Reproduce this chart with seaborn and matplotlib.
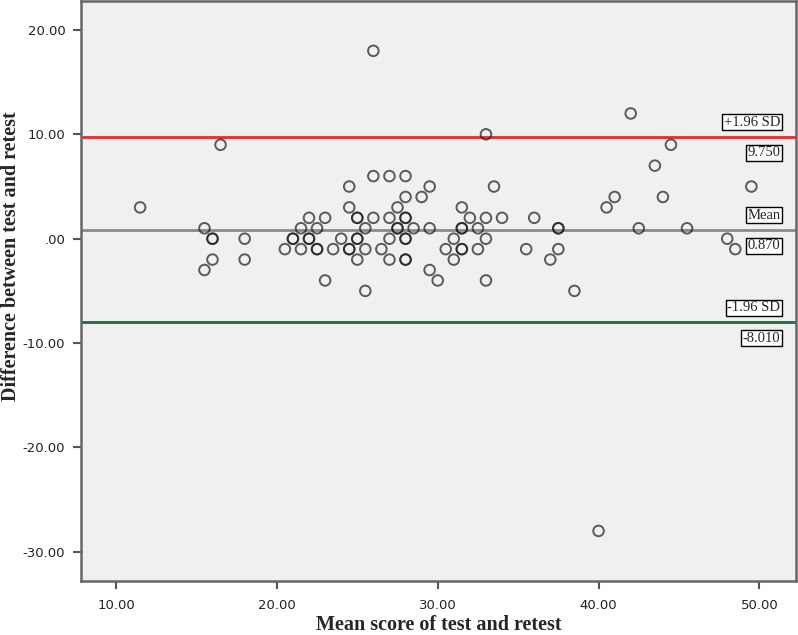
import numpy as np
import pandas as pd
import seaborn as sns
import matplotlib.pyplot as plt

# Bland-Altman data (repeated pairs = overlapping circles)
mean_score = [26, 33, 42, 16.5, 44.5, 43.5,
              26, 27, 28,
              24.5, 29.5, 33.5, 49.5,
              28, 29, 41, 44,
              11.5, 24.5, 27.5, 31.5, 40.5,
              22, 23, 25, 25, 26, 27, 28, 28, 32, 33, 34, 36,
              15.5, 21.5, 22.5, 25.5, 27.5, 27.5, 28.5, 29.5, 31.5, 31.5, 32.5, 37.5, 37.5, 42.5, 45.5,
              16, 16, 18, 21, 21, 22, 22, 24, 25, 25, 27, 28, 28, 31, 33, 48,
              20.5, 21.5, 22.5, 22.5, 23.5, 24.5, 24.5, 25.5, 26.5, 30.5, 31.5, 31.5, 32.5, 35.5, 37.5, 48.5,
              16, 18, 25, 27, 28, 28, 31, 37,
              15.5, 29.5,
              23, 30, 33,
              25.5, 38.5,
              40]
difference = [18, 10, 12, 9, 9, 7,
              6, 6, 6,
              5, 5, 5, 5,
              4, 4, 4, 4,
              3, 3, 3, 3, 3,
              2, 2, 2, 2, 2, 2, 2, 2, 2, 2, 2, 2,
              1, 1, 1, 1, 1, 1, 1, 1, 1, 1, 1, 1, 1, 1, 1,
              0, 0, 0, 0, 0, 0, 0, 0, 0, 0, 0, 0, 0, 0, 0, 0,
              -1, -1, -1, -1, -1, -1, -1, -1, -1, -1, -1, -1, -1, -1, -1, -1,
              -2, -2, -2, -2, -2, -2, -2, -2,
              -3, -3,
              -4, -4, -4,
              -5, -5,
              -28]

mean_diff = 0.870
upper_loa = 9.750
lower_loa = -8.010

x_ticks = [10, 20, 30, 40, 50]
x_labels = ["10.00", "20.00", "30.00", "40.00", "50.00"]
y_ticks = [20, 10, 0, -10, -20, -30]
y_labels = ["20.00", "10.00", ".00", "-10.00", "-20.00", "-30.00"]

df = pd.DataFrame({"mean": mean_score, "diff": difference})

sns.set_style("ticks")
fig = plt.figure(figsize=(7.98, 6.35), dpi=100)
ax = fig.add_axes([0.101, 0.085, 0.897, 0.913])
ax.set_facecolor("#f0f0f0")

sns.scatterplot(data=df, x="mean", y="diff", ax=ax, s=58,
                facecolor="none", edgecolor=(0.1, 0.1, 0.1, 0.7), linewidth=1.4,
                zorder=3)

ax.axhline(upper_loa, color="#e82a2a", lw=2, zorder=2)
ax.axhline(mean_diff, color="#8a8a8a", lw=2, zorder=2)
ax.axhline(lower_loa, color="#1e6b3c", lw=2, zorder=2)

# labels for the reference lines
box = dict(boxstyle="square,pad=0.1", fc="white", ec="black", lw=1)
lab_x = 51.3
for val, name, txt in [(upper_loa, "+1.96 SD", "%.3f" % upper_loa),
                       (mean_diff, "Mean", "%.3f" % mean_diff),
                       (lower_loa, "-1.96 SD", "%.3f" % lower_loa)]:
    ax.annotate(name, (lab_x, val), xytext=(0, 10.5), textcoords="offset points",
                ha="right", va="center", fontsize=10.5, family="Liberation Serif",
                bbox=box, zorder=4)
    ax.annotate(txt, (lab_x, val), xytext=(0, -11.5), textcoords="offset points",
                ha="right", va="center", fontsize=10.5, family="Liberation Serif",
                bbox=box, zorder=4)

ax.set_xlim(7.8, 52.3)
ax.set_ylim(-32.8, 22.75)
ax.set_xticks(x_ticks)
ax.set_xticklabels(x_labels, fontsize=9.5, family="DejaVu Sans", color="#222222")
ax.set_yticks(y_ticks)
ax.set_yticklabels(y_labels, fontsize=9.5, family="DejaVu Sans", color="#222222")
ax.tick_params(length=6, width=1.5, color="#555555")
ax.tick_params(axis="x", pad=7)
ax.tick_params(axis="y", pad=5)

for sp in ax.spines.values():
    sp.set_color("#666666")
    sp.set_linewidth(1.8)

ax.set_xlabel("Mean score of test and retest", fontsize=14.5,
              family="Liberation Serif", fontweight="bold")
ax.set_ylabel("Difference between test and retest", fontsize=14.5,
              family="Liberation Serif", fontweight="bold")
ax.xaxis.set_label_coords(0.5, -0.058)
ax.yaxis.set_label_coords(-0.083, 0.56)

plt.savefig("out.png", dpi=100)
